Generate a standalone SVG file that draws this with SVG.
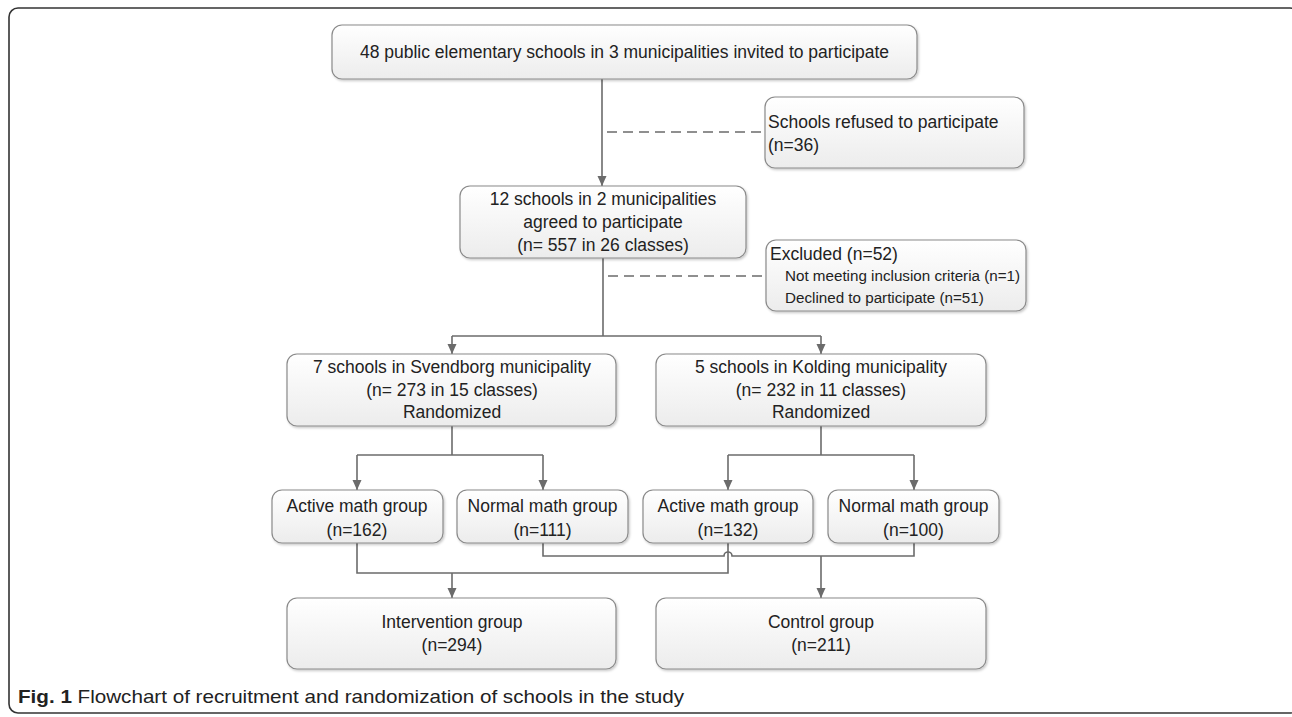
<svg xmlns="http://www.w3.org/2000/svg" width="1292" height="717" viewBox="0 0 1292 717">
<defs>
<style>
.box{fill:url(#g);stroke:#8a8a8a;stroke-width:1.2;filter:url(#sh)}
.t{font-family:"Liberation Sans",Arial,sans-serif;font-size:17.5px;fill:#222;text-anchor:middle}
.tl{text-anchor:start}
.ts{font-family:"Liberation Sans",Arial,sans-serif;font-size:15.2px;fill:#222}
.c{fill:none;stroke:#6b6b6b;stroke-width:1.6}
.d{fill:none;stroke:#6b6b6b;stroke-width:1.3;stroke-dasharray:10 6}
.a{marker-end:url(#ar)}
.cap{font-family:"Liberation Sans",Arial,sans-serif;font-size:18.5px;fill:#222}
</style>
<linearGradient id="g" x1="0" y1="0" x2="0" y2="1">
<stop offset="0" stop-color="#ffffff"/>
<stop offset="1" stop-color="#ececec"/>
</linearGradient>
<filter id="sh" x="-5%" y="-10%" width="110%" height="130%">
<feDropShadow dx="1.2" dy="1.5" stdDeviation="1" flood-color="#000" flood-opacity="0.22"/>
</filter>
<marker id="ar" markerUnits="userSpaceOnUse" markerWidth="10" markerHeight="10" viewBox="0 0 10 10" refX="10" refY="5" orient="auto">
<path d="M0,0.5 L10,5 L0,9.5 Z" fill="#6b6b6b"/>
</marker>
</defs>
<rect x="9" y="8" width="1290" height="705" rx="9" fill="#fff" stroke="#333" stroke-width="1.6"/>

<g id="connectors">
<path class="c a" d="M602,79 V186"/>
<path class="d" d="M607,132 H765"/>
<path class="c" d="M603,258 V336"/>
<path class="d" d="M608,276 H766"/>
<path class="c" d="M452,336 H821"/>
<path class="c a" d="M452,336 V354"/>
<path class="c a" d="M821,336 V354"/>
<path class="c" d="M452,426 V455"/>
<path class="c" d="M357,455 H543"/>
<path class="c a" d="M357,455 V490"/>
<path class="c a" d="M543,455 V490"/>
<path class="c" d="M821,426 V455"/>
<path class="c" d="M728,455 H914"/>
<path class="c a" d="M728,455 V490"/>
<path class="c a" d="M914,455 V490"/>
<path class="c" d="M357,543 V573 H728 V543"/>
<path class="c a" d="M452,573 V598"/>
<path class="c" d="M543,543 V556 H724 A4,4 0 0 1 732,556 H914 V543"/>
<path class="c a" d="M821,556 V598"/>
</g>

<g id="n-invited">
<rect class="box" x="332" y="25" width="585" height="54" rx="10"/>
<text class="t" x="624.5" y="58">48 public elementary schools in 3 municipalities invited to participate</text>
</g>
<g id="n-refused">
<rect class="box" x="765" y="97" width="259" height="71" rx="10"/>
<text class="t tl" x="768" y="128">Schools refused to participate</text>
<text class="t tl" x="768" y="151">(n=36)</text>
</g>
<g id="n-agreed">
<rect class="box" x="460" y="186" width="286" height="72" rx="10"/>
<text class="t" x="603" y="205">12 schools in 2 municipalities</text>
<text class="t" x="603" y="228">agreed to participate</text>
<text class="t" x="603" y="251">(n= 557 in 26 classes)</text>
</g>
<g id="n-excluded">
<rect class="box" x="766" y="240" width="260" height="71" rx="10"/>
<text class="t tl" x="770" y="260">Excluded (n=52)</text>
<text class="ts" x="785" y="281">Not meeting inclusion criteria (n=1)</text>
<text class="ts" x="785" y="303">Declined to participate (n=51)</text>
</g>
<g id="n-svendborg">
<rect class="box" x="287" y="354" width="329" height="72" rx="10"/>
<text class="t" x="452" y="373">7 schools in Svendborg municipality</text>
<text class="t" x="452" y="396">(n= 273 in 15 classes)</text>
<text class="t" x="452" y="418">Randomized</text>
</g>
<g id="n-kolding">
<rect class="box" x="656" y="354" width="330" height="72" rx="10"/>
<text class="t" x="821" y="373">5 schools in Kolding municipality</text>
<text class="t" x="821" y="396">(n= 232 in 11 classes)</text>
<text class="t" x="821" y="418">Randomized</text>
</g>
<g id="n-active-s">
<rect class="box" x="272" y="490" width="171" height="53" rx="10"/>
<text class="t" x="357" y="512">Active math group</text>
<text class="t" x="357" y="536">(n=162)</text>
</g>
<g id="n-normal-s">
<rect class="box" x="457" y="490" width="171" height="53" rx="10"/>
<text class="t" x="542.5" y="512">Normal math group</text>
<text class="t" x="542.5" y="536">(n=111)</text>
</g>
<g id="n-active-k">
<rect class="box" x="643" y="490" width="170" height="53" rx="10"/>
<text class="t" x="728" y="512">Active math group</text>
<text class="t" x="728" y="536">(n=132)</text>
</g>
<g id="n-normal-k">
<rect class="box" x="828" y="490" width="171" height="53" rx="10"/>
<text class="t" x="913.5" y="512">Normal math group</text>
<text class="t" x="913.5" y="536">(n=100)</text>
</g>
<g id="n-intervention">
<rect class="box" x="287" y="598" width="329" height="71" rx="10"/>
<text class="t" x="452" y="628">Intervention group</text>
<text class="t" x="452" y="651">(n=294)</text>
</g>
<g id="n-control">
<rect class="box" x="656" y="598" width="330" height="71" rx="10"/>
<text class="t" x="821" y="628">Control group</text>
<text class="t" x="821" y="651">(n=211)</text>
</g>
<text class="cap" x="18" y="703" textLength="666" lengthAdjust="spacingAndGlyphs"><tspan font-weight="bold">Fig. 1</tspan> Flowchart of recruitment and randomization of schools in the study</text>
</svg>
